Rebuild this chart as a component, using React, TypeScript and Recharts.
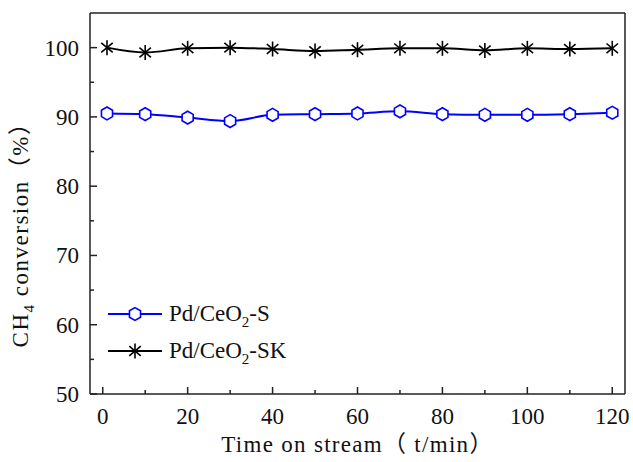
import React from "react";
import {
  LineChart,
  Line,
  XAxis,
  YAxis,
  ReferenceLine,
  Label,
} from "recharts";

// Time on stream (min)
const times = [1, 10, 20, 30, 40, 50, 60, 70, 80, 90, 100, 110, 120];
// CH4 conversion (%) for each catalyst
const convS = [90.5, 90.4, 89.9, 89.4, 90.3, 90.4, 90.5, 90.8, 90.4, 90.3, 90.3, 90.4, 90.6];
const convSK = [100.0, 99.3, 99.9, 100.0, 99.8, 99.5, 99.7, 99.9, 99.9, 99.6, 99.9, 99.8, 99.9];

const xTicks = [0, 10, 20, 30, 40, 50, 60, 70, 80, 90, 100, 110, 120];
const yTicks = [50, 55, 60, 65, 70, 75, 80, 85, 90, 95, 100];

const data = times.map((t, i) => ({ t, s: convS[i], sk: convSK[i] }));

const FONT = "\"Liberation Serif\", \"Noto Sans CJK SC\", serif";
const BLUE = "#0000ff";
const AXIS = "#222";
const textStyle = { fontFamily: FONT, fontSize: 23, fill: "#111" };

const hexPoints = (cx: number, cy: number, r: number) =>
  [-90, -30, 30, 90, 150, 210]
    .map((a) => {
      const rad = (a * Math.PI) / 180;
      return `${cx + r * Math.cos(rad)},${cy + r * Math.sin(rad)}`;
    })
    .join(" ");

const HexDot = (props: any) => {
  const { cx, cy, index } = props;
  if (cx == null || cy == null) return null;
  return (
    <polygon
      key={`hex-${index}`}
      points={hexPoints(cx, cy, 6.4)}
      fill="#fff"
      stroke={BLUE}
      strokeWidth={1.6}
    />
  );
};

const StarMark = ({ cx, cy, r = 7.5 }: { cx: number; cy: number; r?: number }) => {
  const arms = [90, 40, -40].map((a) => {
    const rad = (a * Math.PI) / 180;
    return { dx: r * Math.cos(rad), dy: r * Math.sin(rad) };
  });
  return (
    <g>
      {arms.map((d, i) => (
        <line
          key={i}
          x1={cx - d.dx}
          y1={cy - d.dy}
          x2={cx + d.dx}
          y2={cy + d.dy}
          stroke="#000"
          strokeWidth={1.6}
        />
      ))}
    </g>
  );
};

const StarDot = (props: any) => {
  const { cx, cy, index } = props;
  if (cx == null || cy == null) return null;
  return (
    <g key={`star-${index}`}>
      <StarMark cx={cx} cy={cy} />
    </g>
  );
};

const XTick = (props: any) => {
  const { x, y, payload } = props;
  const v = payload.value;
  const major = v % 20 === 0;
  return (
    <g>
      <line x1={x} y1={y} x2={x} y2={y - (major ? 7 : 4)} stroke={AXIS} strokeWidth={1.5} />
      {major && (
        <text x={x} y={y + 30} textAnchor="middle" style={textStyle}>
          {v}
        </text>
      )}
    </g>
  );
};

const YTick = (props: any) => {
  const { x, y, payload } = props;
  const v = payload.value;
  const major = v % 10 === 0;
  return (
    <g>
      <line x1={x} y1={y} x2={x + (major ? 7 : 4)} y2={y} stroke={AXIS} strokeWidth={1.5} />
      {major && (
        <text x={x - 11} y={y + 8} textAnchor="end" style={textStyle}>
          {v}
        </text>
      )}
    </g>
  );
};

const YTitle = () => (
  <text
    transform="translate(28, 229) rotate(-90)"
    textAnchor="middle"
    style={{ ...textStyle, letterSpacing: 1.5 }}
  >
    CH
    <tspan style={{ fontSize: 15 }} dy={6}>4</tspan>
    <tspan dy={-6}> conversion（%）</tspan>
  </text>
);

const legendItems = [
  { key: "s", name: "Pd/CeO", tail: "-S", color: BLUE, marker: "hex" },
  { key: "sk", name: "Pd/CeO", tail: "-SK", color: "#000", marker: "star" },
];

const LegendBox = () => (
  <div
    style={{
      position: "absolute",
      left: 107,
      top: 295,
      fontFamily: FONT,
      fontSize: 23,
      color: "#111",
      lineHeight: "23px",
    }}
  >
    {legendItems.map((it) => (
      <div key={it.key} style={{ display: "flex", alignItems: "center", height: 37 }}>
        <svg width={58} height={20} style={{ marginRight: 4 }}>
          <line x1={1} y1={10} x2={55} y2={10} stroke={it.color} strokeWidth={2} />
          {it.marker === "hex" ? (
            <polygon points={hexPoints(28, 10, 6.4)} fill="#fff" stroke={BLUE} strokeWidth={1.6} />
          ) : (
            <StarMark cx={28} cy={10} />
          )}
        </svg>
        <span style={{ whiteSpace: "nowrap" }}>
          {it.name}
          <sub style={{ fontSize: 15, lineHeight: 0 }}>2</sub>
          {it.tail}
        </span>
      </div>
    ))}
  </div>
);

export default function App() {
  return (
    <div style={{ position: "absolute", left: 0, top: 0, width: 633, height: 462, fontFamily: FONT }}>
      <LineChart
        width={633}
        height={462}
        data={data}
        margin={{ top: 13, right: 8, bottom: 0, left: 0 }}
        style={{ fontFamily: FONT }}
      >
        <XAxis
          dataKey="t"
          type="number"
          domain={[-3, 123]}
          ticks={xTicks}
          interval={0}
          tickSize={0}
          tickMargin={0}
          tickLine={false}
          tick={<XTick />}
          axisLine={{ stroke: AXIS, strokeWidth: 1.5 }}
          height={68}
        >
          <Label
            value="Time on stream（ t/min）"
            position="insideBottom"
            offset={10}
            style={{ ...textStyle, letterSpacing: 1.3 }}
          />
        </XAxis>
        <YAxis
          type="number"
          domain={[50, 105]}
          ticks={yTicks}
          interval={0}
          tickSize={0}
          tickMargin={0}
          tickLine={false}
          tick={<YTick />}
          axisLine={{ stroke: AXIS, strokeWidth: 1.5 }}
          width={90}
        />
        <ReferenceLine y={105} stroke={AXIS} strokeWidth={1.5} />
        <ReferenceLine x={123} stroke={AXIS} strokeWidth={1.5} />
        <Line
          type="monotone"
          dataKey="s"
          name="Pd/CeO2-S"
          stroke={BLUE}
          strokeWidth={2}
          dot={<HexDot />}
          isAnimationActive={false}
        />
        <Line
          type="monotone"
          dataKey="sk"
          name="Pd/CeO2-SK"
          stroke="#000"
          strokeWidth={2}
          dot={<StarDot />}
          isAnimationActive={false}
        />
        <YTitle />
      </LineChart>
      <LegendBox />
    </div>
  );
}
